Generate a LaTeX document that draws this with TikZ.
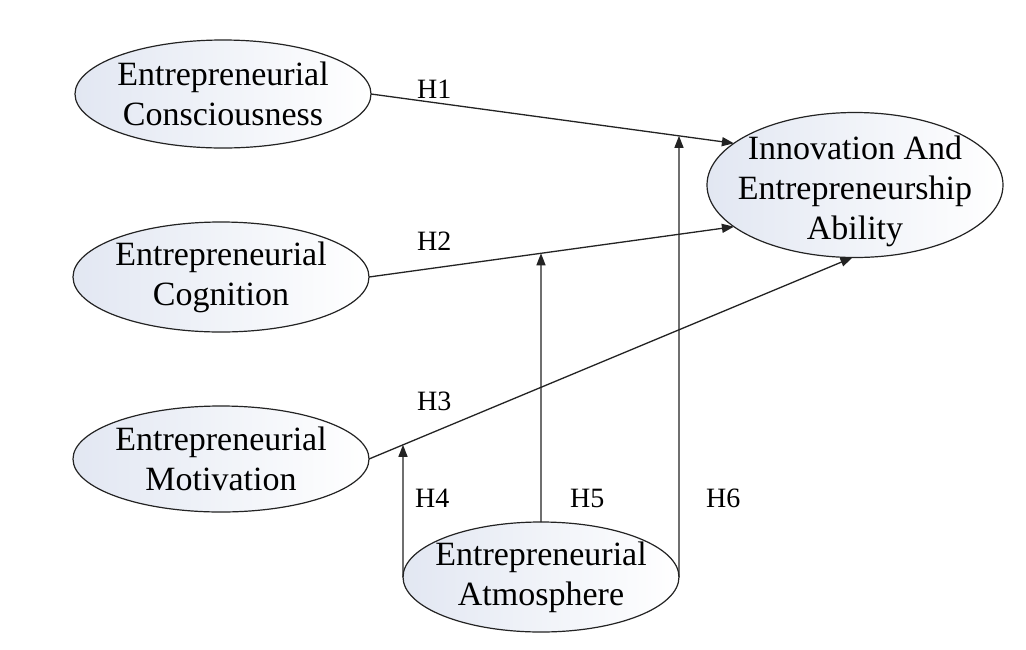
\documentclass[tikz,border=0pt]{standalone}
\usepackage{fontspec}
\setmainfont{Liberation Serif}
\usetikzlibrary{shapes.geometric,arrows.meta,intersections}
\definecolor{ellfill}{RGB}{226,231,242}
\definecolor{linec}{RGB}{35,35,35}
\begin{document}
\begin{tikzpicture}[x=1pt,y=-1pt,
  var/.style={ellipse, draw=linec, line width=1.2pt, left color=ellfill, right color=white,
    inner sep=0pt, outer sep=0pt},
  vtext/.style={align=center, font=\fontsize{34}{40}\selectfont, inner sep=0pt},
  conn/.style={draw=linec, line width=1.3pt, -{Triangle[length=12pt,width=9pt]}},
  hlab/.style={font=\fontsize{28}{32}\selectfont, anchor=base west, inner sep=0pt}]
\fill[white] (0,0) rectangle (1026,649);
\useasboundingbox (0,0) rectangle (1026,649);

\node[var, minimum width=296pt, minimum height=108pt,
  label={[vtext]center:Entrepreneurial\\Consciousness}] (cons) at (223,94) {};
\node[var, minimum width=296pt, minimum height=110pt,
  label={[vtext]center:Entrepreneurial\\Cognition}] (cogn) at (221,277) {};
\node[var, minimum width=296pt, minimum height=106pt,
  label={[vtext]center:Entrepreneurial\\Motivation}] (motiv) at (221,459) {};
\node[var, minimum width=276pt, minimum height=110pt,
  label={[vtext]center:Entrepreneurial\\Atmosphere}] (atmo) at (541,577) {};
\node[var, minimum width=296pt, minimum height=145pt,
  label={[vtext, yshift=-6pt]center:Innovation And\\Entrepreneurship\\Ability}] (inno) at (855,185) {};

\draw[conn, name path=l1] (cons.east) -- (inno.161);
\draw[conn, name path=l2] (cogn.east) -- (inno.199);
\draw[conn, name path=l3] (motiv.east) -- (inno.268);

\path[name path=v4] (atmo.west) -- ++(0,-400);
\path[name path=v5] (atmo.north) -- ++(0,-400);
\path[name path=v6] (atmo.east) -- ++(0,-550);
\path[name intersections={of=l3 and v4, by=x4}];
\path[name intersections={of=l2 and v5, by=x5}];
\path[name intersections={of=l1 and v6, by=x6}];
\draw[conn] (atmo.west) -- (x4);
\draw[conn] (atmo.north) -- (x5);
\draw[conn] (atmo.east) -- (x6);

\node[hlab] (h1) at (417,98) {H1};
\node[hlab] (h2) at (417,250) {H2};
\node[hlab] (h3) at (417,410) {H3};
\node[hlab] (h4) at (415,507) {H4};
\node[hlab] (h5) at (570,507) {H5};
\node[hlab] (h6) at (706,507) {H6};
\end{tikzpicture}
\end{document}
